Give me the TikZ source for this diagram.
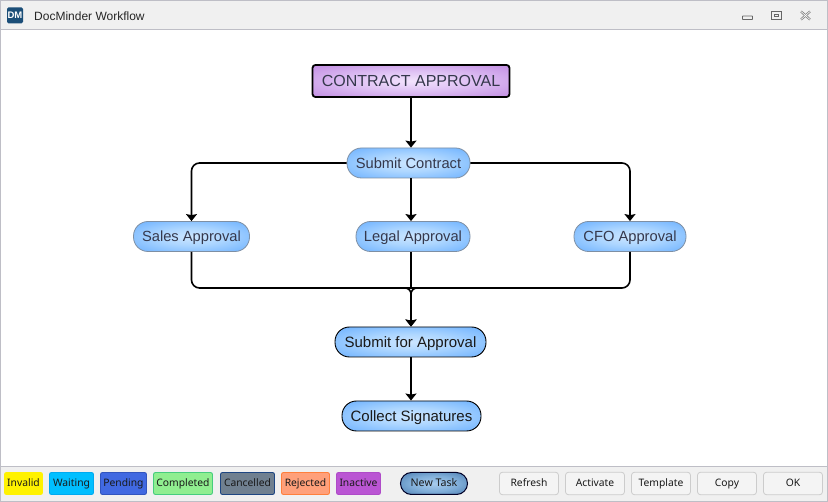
\documentclass[tikz,border=0pt]{standalone}
\usepackage{fontspec}
\setmainfont{Liberation Sans}
\newfontfamily\uifont{Noto Sans}
\usetikzlibrary{arrows.meta,calc}
\pgfdeclareradialshading{blueglow}{\pgfpointorigin}{rgb(0bp)=(0.80,0.90,1);rgb(14bp)=(0.68,0.84,1);rgb(32bp)=(0.47,0.72,1);rgb(50bp)=(0.35,0.63,0.97)}
\pgfdeclareradialshading{purpleglow}{\pgfpointorigin}{rgb(0bp)=(0.95,0.89,0.99);rgb(14bp)=(0.88,0.77,0.96);rgb(32bp)=(0.78,0.59,0.90);rgb(50bp)=(0.70,0.45,0.84)}
\pgfdeclareradialshading{taskglow}{\pgfpointorigin}{rgb(0bp)=(0.66,0.80,0.93);rgb(18bp)=(0.50,0.68,0.85);rgb(36bp)=(0.30,0.49,0.69);rgb(50bp)=(0.14,0.30,0.48)}
\definecolor{barbg}{HTML}{F0F0F0}
\definecolor{frameline}{HTML}{BEBEC6}
\definecolor{softtext}{HTML}{35384C}
\definecolor{softline}{HTML}{7E8FA3}
\tikzset{
  x=1pt,y=-1pt,
  flow/.style={draw=black,line width=1.6pt,-{Stealth[length=7pt,width=11pt,inset=1pt]},rounded corners=8pt},
  pill/.style={shading=blueglow,rounded corners=14.5pt,inner sep=0pt,minimum height=30pt,text height=10.5pt,text depth=0pt},
  softpill/.style={pill,draw=softline,line width=0.8pt,text=softtext,font=\fontsize{14.7}{16}\selectfont},
  hardpill/.style={pill,draw=black,line width=0.9pt,text=black!90,font=\fontsize{15}{16}\selectfont},
  header/.style={shading=purpleglow,draw=black,line width=1.8pt,rounded corners=3pt,inner sep=0pt,text=softtext,minimum width=197pt,minimum height=32pt,font=\fontsize{16}{18}\selectfont},
  legend/.style={rounded corners=2pt,inner sep=0pt,minimum height=22pt,line width=0.9pt,text=black!90,text height=8pt,text depth=1pt,font=\uifont\fontsize{10.3}{12}\selectfont},
  btn/.style={draw=black!20,fill=barbg!70!white,rounded corners=3pt,inner sep=0pt,minimum width=59pt,minimum height=22.5pt,line width=0.8pt,text=black!90,text height=8pt,text depth=1pt,font=\uifont\fontsize{10.3}{12}\selectfont},
  ctl/.style={draw=black!60,line width=0.9pt},
}
\begin{document}
\begin{tikzpicture}
\useasboundingbox (0,0) rectangle (828,502);
% window
\fill[white] (0,0) rectangle (828,502);
\fill[barbg] (0,0) rectangle (828,29.5);
\fill[barbg] (0,466.5) rectangle (828,502);
\draw[frameline,line width=1pt] (0.5,0.5) rectangle (827.5,501.5);
\draw[frameline,line width=1.2pt] (0,29.5) -- (828,29.5);
\draw[frameline,line width=1.2pt] (0,466.5) -- (828,466.5);
% title bar
\node[fill={rgb,255:red,27;green,78;blue,120},rounded corners=1.5pt,minimum size=16pt,inner sep=0pt,text=white,font=\bfseries\fontsize{9.5}{10}\selectfont] (icon) at (15,15.5) {DM};
\node[anchor=west,inner sep=0pt,text=black!85,font=\fontsize{12}{13}\selectfont] (title) at (34,16) {DocMinder Workflow};
\draw[ctl,rounded corners=0.5pt] (742.5,16) rectangle (752.5,19.5);
\draw[ctl] (771.5,11) rectangle (781,19);
\draw[ctl] (774.5,14) rectangle (778,16);
\draw[black!50,line width=2.2pt] (801,11.5) -- (810,19.5) (810,11.5) -- (801,19.5);
\draw[white,line width=0.6pt] (801,11.5) -- (810,19.5) (810,11.5) -- (801,19.5);
% workflow nodes
\node[header] (contract) at (411,81) {CONTRACT APPROVAL};
\node[softpill,minimum width=123pt] (submit) at (408.5,163) {Submit Contract};
\node[softpill,minimum width=116pt] (sales) at (191.5,236.5) {Sales Approval};
\node[softpill,minimum width=114pt] (legal) at (413,236.5) {Legal Approval};
\node[softpill,minimum width=112pt] (cfo) at (630,236.5) {CFO Approval};
\node[hardpill,minimum width=151pt] (forapproval) at (410.5,342) {Submit for Approval};
\node[hardpill,minimum width=139pt] (collect) at (411.5,416) {Collect Signatures};
\coordinate (merge) at (411,288);
% connectors
\draw[flow] (contract.south) -- (contract.south |- submit.north);
\draw[flow] (submit.west) -| (sales.north);
\draw[flow] (submit.east) -| (cfo.north);
\draw[flow] (contract.south |- submit.south) -- (contract.south |- legal.north);
\draw[flow,-] (contract.south |- legal.south) -- (merge);
\draw[flow] (sales.south) |- ([xshift=-7pt]merge) [rounded corners=6pt] -- (merge) -- (contract.south |- forapproval.north);
\draw[flow] (cfo.south) |- ([xshift=7pt]merge) [rounded corners=6pt] -- (merge) -- (contract.south |- forapproval.north);
\draw[flow] (contract.south |- forapproval.south) -- (contract.south |- collect.north);
% legend
\node[legend,fill=yellow,draw=yellow,minimum width=38pt] (invalid) at (23.5,483.5) {Invalid};
\node[legend,fill={rgb,255:red,0;green,191;blue,255},draw={rgb,255:red,0;green,170;blue,240},minimum width=44pt] (waiting) at (71.5,483.5) {Waiting};
\node[legend,fill={rgb,255:red,65;green,105;blue,225},draw={rgb,255:red,50;green,85;blue,190},minimum width=46pt] (pending) at (123.5,483.5) {Pending};
\node[legend,fill={rgb,255:red,144;green,238;blue,144},draw={rgb,255:red,70;green,205;blue,125},minimum width=59pt] (completed) at (183,483.5) {Completed};
\node[legend,fill={rgb,255:red,112;green,128;blue,144},draw={rgb,255:red,30;green,70;blue,130},minimum width=54pt] (cancelled) at (247.5,483.5) {Cancelled};
\node[legend,fill={rgb,255:red,255;green,160;blue,122},draw={rgb,255:red,255;green,127;blue,60},minimum width=48pt] (rejected) at (305.5,483.5) {Rejected};
\node[legend,fill={rgb,255:red,186;green,85;blue,211},draw={rgb,255:red,175;green,75;blue,200},minimum width=44pt] (inactive) at (358.5,483.5) {Inactive};
\node[shading=taskglow,draw=black!85!blue,line width=1pt,rounded corners=11pt,inner sep=0pt,minimum width=67pt,minimum height=22pt,text=black!90,text height=8pt,text depth=1pt,font=\uifont\fontsize{10.6}{12}\selectfont] (newtask) at (434,483.5) {New Task};
% buttons
\node[btn] (refresh) at (529,483.5) {Refresh};
\node[btn] (activate) at (595,483.5) {Activate};
\node[btn] (template) at (661,483.5) {Template};
\node[btn] (copy) at (727,483.5) {Copy};
\node[btn] (ok) at (793,483.5) {OK};
\end{tikzpicture}
\end{document}
